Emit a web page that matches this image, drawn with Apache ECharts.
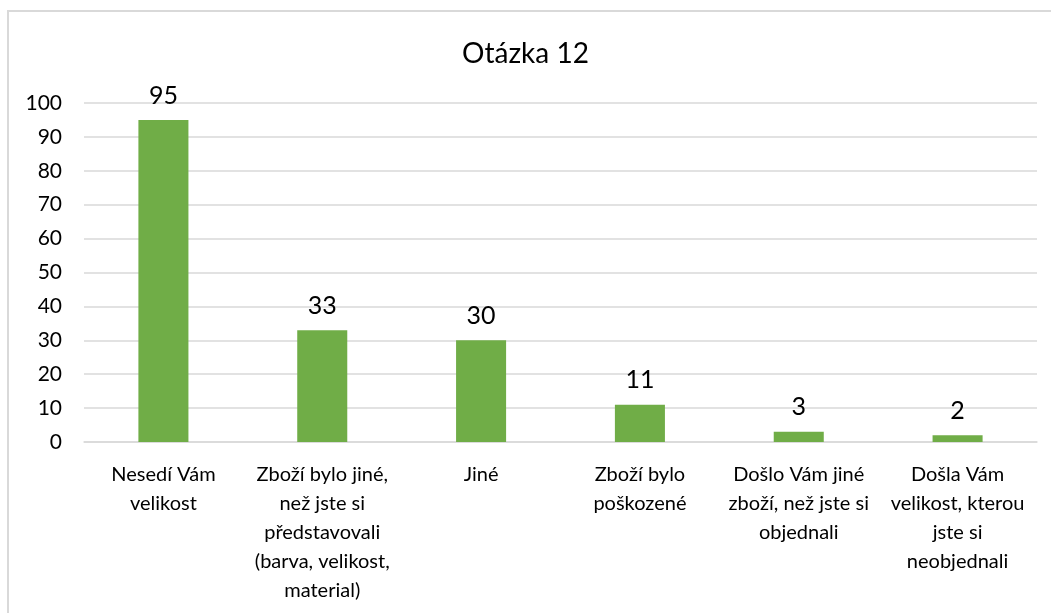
<!DOCTYPE html>
<html>
<head>
<meta charset="utf-8">
<script src="https://cdn.jsdelivr.net/npm/echarts@6/dist/echarts.min.js"></script>
<style>
  html, body { margin: 0; padding: 0; background: #fff; }
  #chart { width: 1051px; height: 613px; }
</style>
</head>
<body>
<div id="chart"></div>
<script>
// data
var categories = [
  'Nesedí Vám\nvelikost',
  'Zboží bylo jiné,\nnež jste si\npředstavovali\n(barva, velikost,\nmaterial)',
  'Jiné',
  'Zboží bylo\npoškozené',
  'Došlo Vám jiné\nzboží, než jste si\nobjednali',
  'Došla Vám\nvelikost, kterou\njste si\nneobjednali'
]
var counts = [95, 33, 30, 11, 3, 2]
var yTicks = { min: 0, max: 100, step: 10 }

var font = 'Lato, "Open Sans", sans-serif'
var chart = echarts.init(document.getElementById('chart'))
var option = {
  animation: false,
  title: {
    text: 'Otázka 12',
    left: 'center',
    top: 35,
    textStyle: { fontFamily: font, fontSize: 28, fontWeight: 'normal', color: '#000' }
  },
  graphic: [{
    type: 'rect',
    shape: { x: 8, y: 11, width: 1100, height: 700 },
    style: { fill: 'none', stroke: '#d9d9d9', lineWidth: 2 },
    silent: true
  }],
  grid: { left: 84, right: 14, top: 103, bottom: 171 },
  xAxis: {
    type: 'category',
    data: categories,
    axisTick: { show: false },
    axisLine: { lineStyle: { color: '#d9d9d9', width: 1.5 } },
    axisLabel: {
      interval: 0,
      margin: 18,
      color: '#000',
      fontFamily: font,
      fontSize: 20,
      lineHeight: 29
    }
  },
  yAxis: {
    type: 'value',
    min: yTicks.min,
    max: yTicks.max,
    interval: yTicks.step,
    axisLine: { show: false },
    axisTick: { show: false },
    splitLine: { lineStyle: { color: '#d9d9d9', width: 1.5 } },
    axisLabel: { color: '#000', fontFamily: font, fontSize: 21, margin: 22 }
  },
  series: [{
    type: 'bar',
    data: counts,
    barWidth: '31.5%',
    itemStyle: { color: '#70ad47' },
    label: {
      show: true,
      position: 'top',
      distance: 12,
      color: '#000',
      fontFamily: font,
      fontSize: 25
    }
  }]
}
chart.setOption(option)
</script>
</body>
</html>
